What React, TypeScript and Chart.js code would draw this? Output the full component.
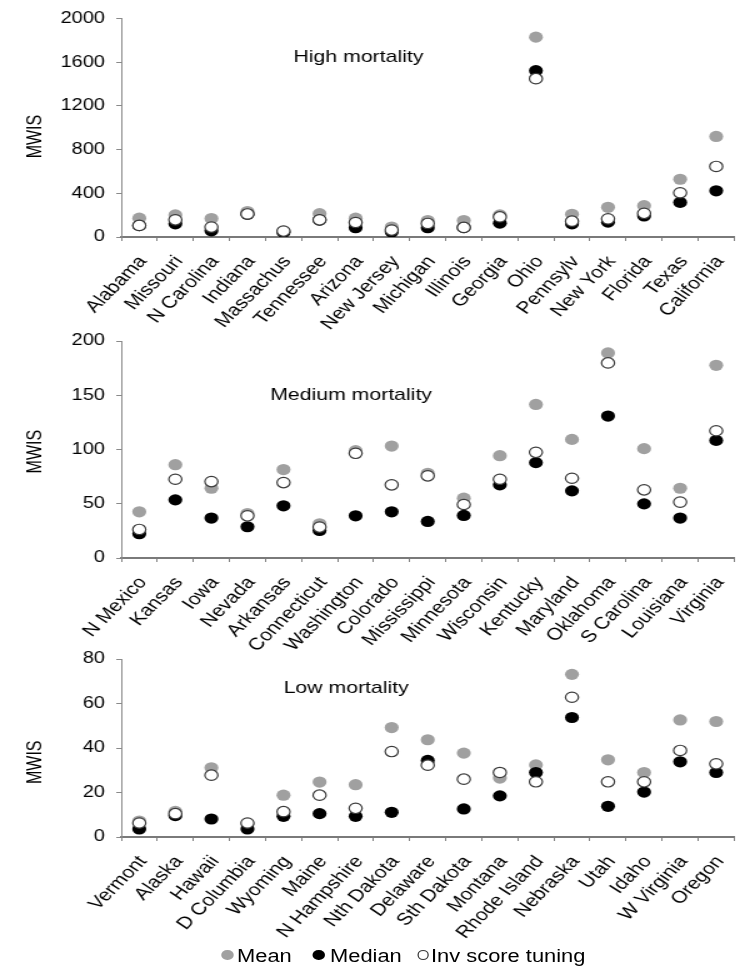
import React, { useEffect, useRef } from "react";
import { Chart, registerables } from "chart.js";

Chart.register(...registerables);

// ---- data ----
const highStates = ["Alabama", "Missouri", "N Carolina", "Indiana", "Massachus", "Tennessee", "Arizona", "New Jersey", "Michigan", "Illinois", "Georgia", "Ohio", "Pennsylv", "New York", "Florida", "Texas", "California"];
const highMean = [172, 202, 169, 233, 52, 214, 172, 91, 151, 151, 202, 1830, 208, 272, 287, 529, 921];
const highMedian = [104, 121, 57, 208, 42, 155, 85, 45, 85, 86, 127, 1523, 121, 136, 193, 317, 423];
const highInv = [106, 157, 91, 211, 54, 157, 133, 63, 124, 88, 184, 1450, 145, 166, 217, 405, 646];

const mediumStates = ["N Mexico", "Kansas", "Iowa", "Nevada", "Arkansas", "Connecticut", "Washington", "Colorado", "Mississippi", "Minnesota", "Wisconsin", "Kentucky", "Maryland", "Oklahoma", "S Carolina", "Louisiana", "Virginia"];
const mediumMean = [42.6, 86, 64.3, 41, 81.5, 31.5, 98.9, 103.2, 78.1, 55.1, 94.3, 141.5, 109.3, 189, 100.8, 64.3, 177.6];
const mediumMedian = [22.4, 53.6, 36.8, 28.8, 48.1, 25.4, 38.9, 42.6, 33.7, 39.2, 67.4, 87.9, 61.9, 130.8, 49.9, 36.8, 108.4];
const mediumInv = [26.3, 72.6, 70.4, 38.9, 69.5, 28.5, 96.5, 67.4, 75.7, 49.3, 72.6, 97.4, 73.5, 179.8, 62.8, 51.5, 117.3];

const lowStates = ["Vermont", "Alaska", "Hawaii", "D Columbia", "Wyoming", "Maine", "N Hampshire", "Nth Dakota", "Delaware", "Sth Dakota", "Montana", "Rhode Island", "Nebraska", "Utah", "Idaho", "W Virginia", "Oregon"];
const lowMean = [7.2, 11.5, 31.1, 5.8, 18.8, 24.7, 23.5, 49.2, 43.7, 37.7, 26.5, 32.4, 73.1, 34.7, 29.0, 52.6, 51.9];
const lowMedian = [3.6, 9.6, 8.1, 3.6, 9.3, 10.5, 9.3, 11.1, 34.4, 12.6, 18.5, 29.0, 53.7, 13.8, 20.2, 33.8, 29.0];
const lowInv = [6.3, 10.5, 27.8, 6.3, 11.4, 18.8, 12.9, 38.4, 32.3, 26.0, 29.0, 24.8, 62.8, 24.8, 24.8, 38.9, 32.9];

const seriesNames = ["Mean", "Median", "Inv score tuning"];

const FONT = '"Liberation Sans", Arial, Helvetica, sans-serif';
const MEAN_COLOR = "#a0a0a0";
const MEDIAN_COLOR = "#000000";
const INV_STROKE = "#3a3a3a";

// The figure is drawn narrow and widened by CSS, giving the wide glyphs and
// oval markers of the printed figure.
const STRETCH = 1.25;
const CANVAS_W = 600;

// Panel caption inside the plot plus the rotated "MWIS" axis caption.
const panelText = {
  id: "panelText",
  afterDraw(chart: any, _args: any, opts: any) {
    const { ctx, chartArea } = chart;
    ctx.save();
    ctx.fillStyle = "#000";
    ctx.textAlign = "center";
    ctx.textBaseline = "middle";
    ctx.font = `17px ${FONT}`;
    const tx = chartArea.left + opts.fx * (chartArea.right - chartArea.left);
    const ty = chartArea.top + opts.fy * (chartArea.bottom - chartArea.top);
    ctx.fillText(opts.title, tx, ty);
    ctx.font = `16px ${FONT}`;
    ctx.translate(opts.yTitleX, chartArea.top + opts.yTitleFy * (chartArea.bottom - chartArea.top));
    ctx.rotate(-Math.PI / 2);
    ctx.fillText("MWIS", 0, 0);
    ctx.restore();
  },
};

type PanelProps = {
  states: string[];
  mean: number[];
  median: number[];
  inv: number[];
  yMax: number;
  step: number;
  title: string;
  top: number;
  height: number;
  padTop: number;
  axisHeight: number;
  fx: number;
  fy: number;
  yTitleFy: number;
};

function Panel(p: PanelProps) {
  const ref = useRef<HTMLCanvasElement | null>(null);

  useEffect(() => {
    if (!ref.current) return;
    const chart = new Chart(ref.current, {
      type: "line",
      data: {
        labels: p.states,
        datasets: [
          {
            label: seriesNames[0],
            data: p.mean,
            showLine: false,
            pointRadius: 5.6,
            pointBackgroundColor: MEAN_COLOR,
            pointBorderColor: MEAN_COLOR,
            pointBorderWidth: 0,
            order: 3,
          },
          {
            label: seriesNames[1],
            data: p.median,
            showLine: false,
            pointRadius: 5.6,
            pointBackgroundColor: MEDIAN_COLOR,
            pointBorderColor: MEDIAN_COLOR,
            pointBorderWidth: 0,
            order: 2,
          },
          {
            label: seriesNames[2],
            data: p.inv,
            showLine: false,
            pointRadius: 5.2,
            pointBackgroundColor: "#ffffff",
            pointBorderColor: INV_STROKE,
            pointBorderWidth: 1.2,
            order: 1,
          },
        ],
      },
      options: {
        animation: false,
        responsive: false,
        events: [],
        layout: { padding: { top: p.padTop, right: 1.6, left: 0, bottom: 0 } },
        plugins: {
          legend: { display: false },
          tooltip: { enabled: false },
          panelText: { title: p.title, fx: p.fx, fy: p.fy, yTitleX: 29, yTitleFy: p.yTitleFy },
        } as any,
        scales: {
          x: {
            type: "category",
            offset: true,
            grid: {
              display: true,
              offset: true,
              drawOnChartArea: false,
              drawTicks: true,
              tickLength: 4,
              color: "#808080",
              lineWidth: 1,
            },
            border: { display: true, color: "#7a7a7a", width: 2 },
            ticks: {
              autoSkip: false,
              minRotation: 51,
              maxRotation: 51,
              padding: 11,
              labelOffset: 3,
              color: "#000",
              font: { family: FONT, size: 17 },
            },
            afterFit: (s: any) => {
              s.height = p.axisHeight;
            },
          },
          y: {
            min: 0,
            max: p.yMax,
            ticks: {
              stepSize: p.step,
              padding: 9,
              color: "#000",
              font: { family: FONT, size: 16 },
              callback: (v: any) => String(v),
            },
            grid: {
              drawOnChartArea: false,
              drawTicks: true,
              tickLength: 4,
              color: "#8a8a8a",
            },
            border: { display: true, color: "#8a8a8a", width: 1 },
            afterFit: (s: any) => {
              s.width = 97;
            },
          },
        },
      },
      plugins: [panelText],
    });
    return () => chart.destroy();
  }, []);

  return (
    <canvas
      ref={ref}
      width={CANVAS_W}
      height={p.height}
      style={{
        position: "absolute",
        left: 0,
        top: p.top,
        width: CANVAS_W * STRETCH,
        height: p.height,
      }}
    />
  );
}

function Legend() {
  const items = [
    { x: 177, tx: 189.6, fill: MEAN_COLOR, stroke: "" },
    { x: 250.4, tx: 264, fill: MEDIAN_COLOR, stroke: "" },
    { x: 333.6, tx: 344.8, fill: "#fff", stroke: INV_STROKE },
  ];
  return (
    <div
      style={{
        position: "absolute",
        left: 0,
        top: 945,
        width: CANVAS_W,
        height: 22,
        transform: `scaleX(${STRETCH})`,
        transformOrigin: "0 0",
        fontFamily: FONT,
        fontSize: 17.5,
        color: "#000",
      }}
    >
      {items.map((it, i) => (
        <React.Fragment key={seriesNames[i]}>
          <div
            style={{
              position: "absolute",
              left: it.x,
              top: 5,
              width: 9.6,
              height: 10,
              borderRadius: "50%",
              background: it.fill,
              boxSizing: "border-box",
              border: it.stroke ? `1px solid ${it.stroke}` : "none",
            }}
          />
          <div style={{ position: "absolute", left: it.tx, top: 0, lineHeight: "22px", whiteSpace: "nowrap" }}>
            {seriesNames[i]}
          </div>
        </React.Fragment>
      ))}
    </div>
  );
}

export default function App() {
  useEffect(() => {
    document.body.style.margin = "0";
    document.body.style.overflow = "hidden";
  }, []);

  return (
    <div style={{ position: "relative", width: 741, height: 968, overflow: "hidden", background: "#fff" }}>
      <Panel
        states={highStates}
        mean={highMean}
        median={highMedian}
        inv={highInv}
        yMax={2000}
        step={400}
        title="High mortality"
        top={0}
        height={330}
        padTop={17}
        axisHeight={93}
        fx={0.387}
        fy={0.177}
        yTitleFy={0.54}
      />
      <Panel
        states={mediumStates}
        mean={mediumMean}
        median={mediumMedian}
        inv={mediumInv}
        yMax={200}
        step={50}
        title="Medium mortality"
        top={320}
        height={330}
        padTop={21}
        axisHeight={92}
        fx={0.375}
        fy={0.249}
        yTitleFy={0.51}
      />
      <Panel
        states={lowStates}
        mean={lowMean}
        median={lowMedian}
        inv={lowInv}
        yMax={80}
        step={20}
        title="Low mortality"
        top={630}
        height={310}
        padTop={29}
        axisHeight={103}
        fx={0.367}
        fy={0.163}
        yTitleFy={0.58}
      />
      <Legend />
    </div>
  );
}
